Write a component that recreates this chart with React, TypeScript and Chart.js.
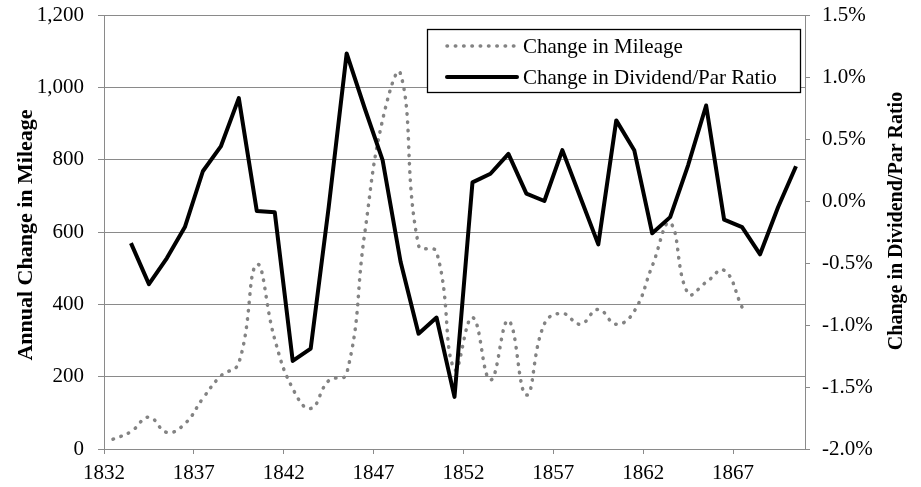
import React, { useEffect, useRef } from "react";
import { Chart, registerables } from "chart.js";

Chart.register(...registerables);

// ---- data ----
const mileageYears = [
  1832.5, 1833.5, 1834.5, 1835.5, 1836.5, 1837.5, 1838.5, 1839.5, 1840.5, 1841.5,
  1842.5, 1843.5, 1844.5, 1845.5, 1846.5, 1847.5, 1848.5, 1849.5, 1850.5, 1851.5,
  1852.5, 1853.5, 1854.5, 1855.5, 1856.5, 1857.5, 1858.5, 1859.5, 1860.5, 1861.5,
  1862.5, 1863.5, 1864.5, 1865.5, 1866.5, 1867.5,
];
const mileageValues = [
  27, 48, 88, 46, 70, 140, 202, 238, 510, 303,
  167, 112, 189, 208, 595, 910, 1037, 563, 545, 220,
  364, 191, 355, 149, 346, 375, 345, 386, 345, 381,
  506, 625, 430, 461, 494, 392,
];
const dividendYears = [
  1833.5, 1834.5, 1835.5, 1836.5, 1837.5, 1838.5, 1839.5, 1840.5, 1841.5, 1842.5,
  1843.5, 1844.5, 1845.5, 1846.5, 1847.5, 1848.5, 1849.5, 1850.5, 1851.5, 1852.5,
  1853.5, 1854.5, 1855.5, 1856.5, 1857.5, 1858.5, 1859.5, 1860.5, 1861.5, 1862.5,
  1863.5, 1864.5, 1865.5, 1866.5, 1867.5, 1868.5, 1869.5, 1870.5,
];
// percent
const dividendValues = [
  -0.34, -0.67, -0.46, -0.21, 0.24, 0.44, 0.83, -0.08, -0.09, -1.29,
  -1.19, -0.05, 1.19, 0.75, 0.33, -0.49, -1.07, -0.94, -1.58, 0.15,
  0.22, 0.38, 0.06, 0.0, 0.41, 0.03, -0.35, 0.65, 0.41, -0.26,
  -0.13, 0.29, 0.77, -0.15, -0.21, -0.43, -0.05, 0.28,
];
const xTickYears = [1832, 1837, 1842, 1847, 1852, 1857, 1862, 1867];
const seriesNames = ["Change in Mileage", "Change in Dividend/Par Ratio"];
const axisTitles = ["Annual Change in Mileage", "Change in Dividend/Par Ratio"];

// ---- styles ----
const FONT = '"Liberation Serif", "Times New Roman", serif';
const GRID = "#8a8a8a";
const MILEAGE_COLOR = "#838383";
const LABEL_SIZE = 21;

const decorPlugin = {
  id: "decor",
  afterDraw(chart: any) {
    const { ctx, chartArea: a } = chart;
    ctx.save();
    // axis titles
    ctx.fillStyle = "#000";
    ctx.textAlign = "center";
    ctx.textBaseline = "middle";
    const midY = (a.top + a.bottom) / 2;
    ctx.save();
    ctx.font = `bold 22px ${FONT}`;
    ctx.translate(a.left - 78, midY + 3);
    ctx.rotate(-Math.PI / 2);
    ctx.fillText(axisTitles[0], 0, 0);
    ctx.restore();
    ctx.save();
    ctx.font = `bold 20px ${FONT}`;
    ctx.translate(a.right + 92, midY - 11);
    ctx.rotate(-Math.PI / 2);
    ctx.fillText(axisTitles[1], 0, 0);
    ctx.restore();

    // legend box
    const bx = a.right - 378;
    const by = a.top + 14;
    const bw = 373;
    const bh = 63;
    ctx.fillStyle = "#fff";
    ctx.fillRect(bx, by, bw, bh);
    ctx.strokeStyle = "#000";
    ctx.lineWidth = 1.3;
    ctx.strokeRect(bx + 0.5, by + 0.5, bw, bh);

    const sx0 = bx + 20;
    const sx1 = bx + 90;
    const r1 = by + 17;
    const r2 = by + 48;
    // mileage sample
    ctx.save();
    ctx.strokeStyle = MILEAGE_COLOR;
    ctx.lineWidth = 3.5;
    ctx.lineCap = "round";
    ctx.setLineDash([0.5, 7.8]);
    ctx.beginPath();
    ctx.moveTo(sx0, r1);
    ctx.lineTo(sx1, r1);
    ctx.stroke();
    ctx.restore();
    // dividend sample
    ctx.save();
    ctx.strokeStyle = "#000";
    ctx.lineWidth = 4;
    ctx.lineCap = "round";
    ctx.beginPath();
    ctx.moveTo(sx0, r2);
    ctx.lineTo(sx1, r2);
    ctx.stroke();
    ctx.restore();

    ctx.fillStyle = "#000";
    ctx.font = `${LABEL_SIZE}px ${FONT}`;
    ctx.textAlign = "left";
    ctx.textBaseline = "middle";
    ctx.fillText(seriesNames[0], bx + 96, r1 + 1);
    ctx.fillText(seriesNames[1], bx + 96, r2 + 1);
    ctx.restore();
  },
};

export default function App() {
  const ref = useRef<HTMLCanvasElement>(null);

  useEffect(() => {
    document.body.style.margin = "0";
    const tickFont = { family: FONT, size: LABEL_SIZE };
    const chart = new Chart(ref.current as HTMLCanvasElement, {
      type: "line",
      data: {
        datasets: [
          {
            label: seriesNames[0],
            data: mileageYears.map((x, i) => ({ x, y: mileageValues[i] })),
            yAxisID: "y",
            borderColor: MILEAGE_COLOR,
            borderWidth: 3.5,
            borderDash: [0.5, 7.8],
            borderCapStyle: "round",
            pointRadius: 0,
            tension: 0.45,
            fill: false,
            order: 1,
          },
          {
            label: seriesNames[1],
            data: dividendYears.map((x, i) => ({ x, y: dividendValues[i] })),
            yAxisID: "y1",
            borderColor: "#000",
            borderWidth: 4,
            borderJoinStyle: "round",
            borderCapStyle: "butt",
            pointRadius: 0,
            tension: 0,
            fill: false,
            order: 0,
          },
        ] as any,
      },
      options: {
        responsive: false,
        animation: false,
        devicePixelRatio: 1,
        layout: { padding: { top: 15, left: 0, right: 0, bottom: 0 } },
        plugins: { legend: { display: false }, tooltip: { enabled: false } },
        scales: {
          x: {
            type: "linear",
            position: "bottom",
            min: 1832,
            max: 1871,
            afterBuildTicks: (s: any) => {
              s.ticks = xTickYears.map((v) => ({ value: v }));
            },
            afterFit: (s: any) => {
              s.height = 38;
              s.paddingLeft = 0;
              s.paddingRight = 0;
            },
            grid: {
              drawOnChartArea: false,
              drawTicks: true,
              tickLength: 5,
              color: GRID,
            },
            border: { display: true, color: GRID, width: 1 },
            ticks: {
              color: "#000",
              font: tickFont,
              padding: 7,
              maxRotation: 0,
              autoSkip: false,
              callback: (v: any) => String(v),
            },
          },
          y: {
            type: "linear",
            position: "left",
            min: 0,
            max: 1200,
            afterFit: (s: any) => {
              s.width = 104;
              s.paddingTop = 0;
              s.paddingBottom = 0;
            },
            grid: { color: GRID, drawTicks: true, tickLength: 6 },
            border: { display: true, color: GRID, width: 1 },
            ticks: {
              stepSize: 200,
              color: "#000",
              font: tickFont,
              padding: 14,
              callback: (v: any) => Number(v).toLocaleString("en-US"),
            },
          },
          y1: {
            type: "linear",
            position: "right",
            min: -2,
            max: 1.5,
            afterFit: (s: any) => {
              s.width = 116;
              s.paddingTop = 0;
              s.paddingBottom = 0;
            },
            grid: { drawOnChartArea: false, drawTicks: true, tickLength: 5, color: GRID },
            border: { display: true, color: GRID, width: 1 },
            ticks: {
              stepSize: 0.5,
              color: "#000",
              font: tickFont,
              padding: 12,
              callback: (v: any) => Number(v).toFixed(1) + "%",
            },
          },
        },
      } as any,
      plugins: [decorPlugin],
    });
    return () => chart.destroy();
  }, []);

  return (
    <div style={{ position: "absolute", left: 0, top: 0, width: 921, height: 487, background: "#fff" }}>
      <canvas ref={ref} width={921} height={487} style={{ display: "block", width: 921, height: 487 }} />
    </div>
  );
}
